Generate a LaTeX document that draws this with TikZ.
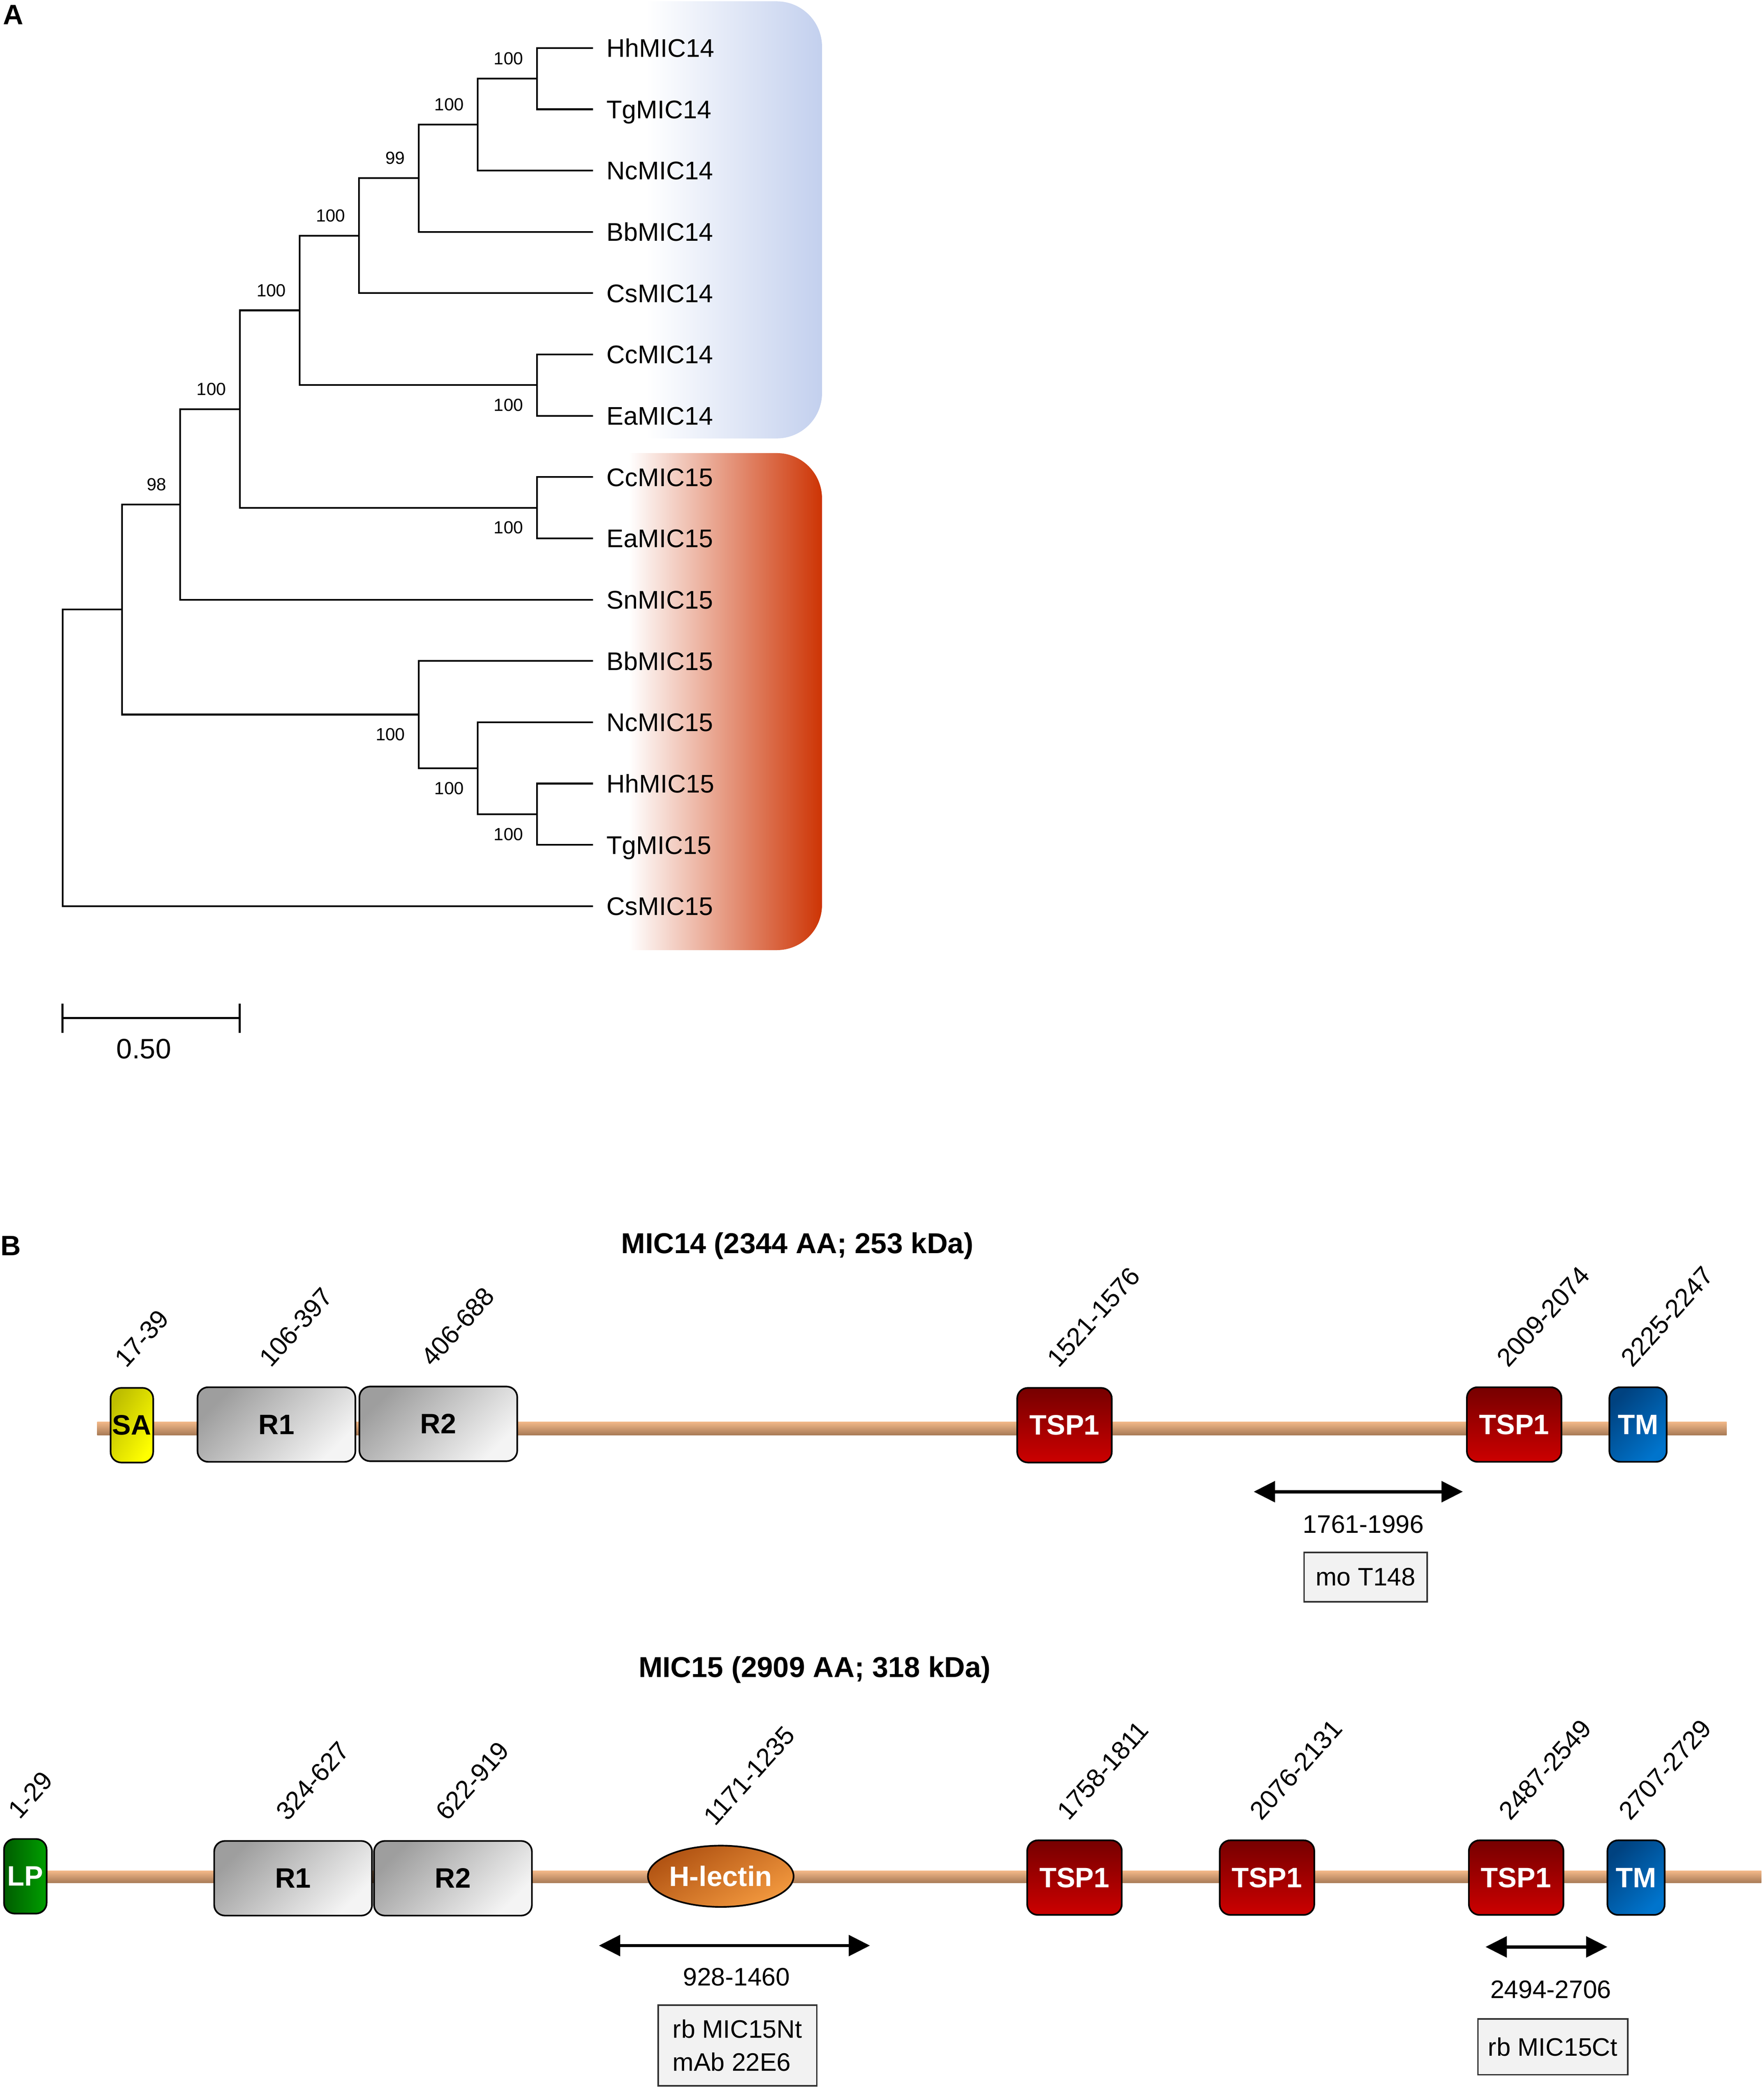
\documentclass[tikz,border=0pt]{standalone}
\usepackage{fontspec}
\setmainfont{Liberation Sans}
\usetikzlibrary{arrows.meta,calc,shapes.geometric}

\definecolor{cladeblue}{RGB}{195,208,238}
\definecolor{cladered}{RGB}{205,52,4}
\definecolor{bbtop}{RGB}{242,184,136}
\definecolor{bbbot}{RGB}{168,122,86}
\definecolor{repdark}{RGB}{158,158,158}
\definecolor{replight}{RGB}{244,244,244}
\definecolor{tspdark}{RGB}{118,0,0}
\definecolor{tsplight}{RGB}{204,0,0}
\definecolor{tmdark}{RGB}{0,66,128}
\definecolor{tmlight}{RGB}{0,116,204}
\definecolor{sadark}{RGB}{190,190,0}
\definecolor{salight}{RGB}{255,255,0}
\definecolor{lpdark}{RGB}{0,92,0}
\definecolor{lplight}{RGB}{0,158,0}
\definecolor{lecdark}{RGB}{176,82,18}
\definecolor{leclight}{RGB}{242,152,62}
\definecolor{boxfill}{RGB}{242,242,242}

\begin{document}
\begin{tikzpicture}[x=0.02cm,y=0.02cm,
  branch/.style={line width=0.75pt},
  tip/.style={anchor=west,inner xsep=0.2cm,inner ysep=0pt,text height=7.8pt,text depth=0pt,font=\fontsize{10.9}{13}\selectfont},
  bsup/.style={anchor=south east,inner sep=0.2cm,font=\fontsize{7.5}{9}\selectfont},
  bsdn/.style={anchor=north east,inner sep=0.2cm,font=\fontsize{7.5}{9}\selectfont},
  panel/.style={font=\bfseries\fontsize{12}{14}\selectfont,inner sep=0pt},
  title/.style={font=\bfseries\fontsize{12.3}{14}\selectfont,inner sep=0pt},
  dom/.style={draw=black,line width=0.7pt,rounded corners=0.16cm,minimum height=1.12cm,inner sep=0pt,font=\bfseries\fontsize{12}{14}\selectfont},
  rep/.style={dom,minimum width=2.37cm,top color=repdark,bottom color=replight,shading angle=45},
  tsp/.style={dom,minimum width=1.42cm,text=white,top color=tspdark,bottom color=tsplight},
  tmd/.style={dom,minimum width=0.86cm,text=white,top color=tmdark,bottom color=tmlight,shading angle=45},
  sad/.style={dom,minimum width=0.64cm,top color=sadark,bottom color=salight,shading angle=60},
  lpd/.style={dom,minimum width=0.64cm,text=white,left color=lpdark,right color=lplight},
  lec/.style={ellipse,draw=black,line width=0.7pt,minimum width=2.08cm,minimum height=0.92cm,inner sep=0pt,text=white,font=\bfseries\fontsize{12}{14}\selectfont,top color=lecdark,bottom color=leclight,shading angle=30},
  resid/.style={anchor=south west,rotate=48,inner sep=0pt,font=\fontsize{11}{13}\selectfont},
  rng/.style={inner sep=0pt,font=\fontsize{10.8}{13}\selectfont},
  span/.style={{Triangle[length=0.32cm,width=0.31cm]}-{Triangle[length=0.32cm,width=0.31cm]},line width=1.4pt},
  abbox/.style={draw=black!80,fill=boxfill,line width=0.6pt,inner sep=0pt,font=\fontsize{10.8}{14.2}\selectfont}]

\useasboundingbox (0,0) rectangle (1324,-1568.4);

\shade[left color=white,right color=cladeblue] (485,-1) -- (583,-1) arc[start angle=90,end angle=0,radius=0.68cm] -- (617,-295) arc[start angle=0,end angle=-90,radius=0.68cm] -- (485,-329) -- cycle;
\shade[left color=white,right color=cladered] (472,-340) -- (583,-340) arc[start angle=90,end angle=0,radius=0.68cm] -- (617,-679) arc[start angle=0,end angle=-90,radius=0.68cm] -- (472,-713) -- cycle;

\node[panel] (pA) at (10,-11) {A};
\foreach \t [count=\i from 0] in {HhMIC14,TgMIC14,NcMIC14,BbMIC14,CsMIC14,CcMIC14,EaMIC14,CcMIC15,EaMIC15,SnMIC15,BbMIC15,NcMIC15,HhMIC15,TgMIC15,CsMIC15}
  \node[tip] (\t) at (445,{-36-46*\i}) {\t};

\coordinate (n1) at (403,-59);
\coordinate (n2) at (358.5,-93.5);
\coordinate (n3) at (314.4,-133.7);
\coordinate (n4) at (269.5,-176.9);
\coordinate (n5) at (403,-289);
\coordinate (n6) at (225,-232.9);
\coordinate (n7) at (403,-381);
\coordinate (n8) at (180,-307);
\coordinate (n9) at (135.2,-378.5);
\coordinate (n10) at (403,-611);
\coordinate (n11) at (358.5,-576.5);
\coordinate (n12) at (314.4,-536.2);
\coordinate (n13) at (91.5,-457.4);
\coordinate (n14) at (47,-568.7);

\draw[branch] (n1) |- (HhMIC14.west) (n1) |- (TgMIC14.west);
\draw[branch] (n2) |- (n1) (n2) |- (NcMIC14.west);
\draw[branch] (n3) |- (n2) (n3) |- (BbMIC14.west);
\draw[branch] (n4) |- (n3) (n4) |- (CsMIC14.west);
\draw[branch] (n5) |- (CcMIC14.west) (n5) |- (EaMIC14.west);
\draw[branch] (n6) |- (n4) (n6) |- (n5);
\draw[branch] (n7) |- (CcMIC15.west) (n7) |- (EaMIC15.west);
\draw[branch] (n8) |- (n6) (n8) |- (n7);
\draw[branch] (n9) |- (n8) (n9) |- (SnMIC15.west);
\draw[branch] (n10) |- (HhMIC15.west) (n10) |- (TgMIC15.west);
\draw[branch] (n11) |- (NcMIC15.west) (n11) |- (n10);
\draw[branch] (n12) |- (BbMIC15.west) (n12) |- (n11);
\draw[branch] (n13) |- (n9) (n13) |- (n12);
\draw[branch] (n14) |- (n13) (n14) |- (CsMIC15.west);

\foreach \c/\v in {n1/100,n2/100,n3/99,n4/100,n6/100,n8/100,n9/98}
  \node[bsup] (b\c) at (\c) {\v};
\foreach \c in {n5,n7,n10,n11,n12}
  \node[bsdn] (b\c) at (\c) {100};

\coordinate (sbl) at (47,-764);
\coordinate (sbr) at (180,-764);
\draw[line width=0.9pt] (sbl) -- (sbr);
\draw[line width=0.9pt] ($(sbl)+(0,11)$) -- ($(sbl)+(0,-11)$) ($(sbr)+(0,11)$) -- ($(sbr)+(0,-11)$);
\node[inner sep=0pt,font=\fontsize{12}{14}\selectfont] (sblbl) at (108,-787) {0.50};

\node[panel] (pB) at (8,-935) {B};
\node[title] (t14) at (598.5,-935) {MIC14 (2344 AA; 253 kDa)};
\node[title] (t15) at (611.5,-1253) {MIC15 (2909 AA; 318 kDa)};

\shade[top color=bbtop,bottom color=bbbot] (73,-1067) rectangle (1296,-1077);
\shade[top color=bbtop,bottom color=bbbot] (19,-1404) rectangle (1322,-1413);

\node[sad] (sa14) at (99,-1069.5) {SA};
\node[rep] (r1a) at (207.5,-1069) {R1};
\node[rep] (r2a) at (329,-1068.5) {R2};
\node[tsp] (tspa) at (799,-1069.5) {TSP1};
\node[tsp] (tspb) at (1136.5,-1069) {TSP1};
\node[tmd] (tma) at (1229.5,-1069) {TM};

\node[lpd] (lp15) at (19,-1408) {LP};
\node[rep] (r1b) at (220,-1409.5) {R1};
\node[rep] (r2b) at (340,-1409.5) {R2};
\node[lec] (hlec) at (541,-1408) {H-lectin};
\node[tsp] (tspc) at (806.5,-1409) {TSP1};
\node[tsp] (tspd) at (951,-1409) {TSP1};
\node[tsp] (tspe) at (1138,-1409) {TSP1};
\node[tmd] (tmb) at (1228,-1409) {TM};

\foreach \d/\r in {sa14/17-39,r1a/106-397,r2a/406-688,tspa/1521-1576,tspb/2009-2074,tma/2225-2247,lp15/1-29,r1b/324-627,r2b/622-919,hlec/1171-1235,tspc/1758-1811,tspd/2076-2131,tspe/2487-2549,tmb/2707-2729}
  \node[resid] (l\d) at ($(\d.north)+(-4,13)$) {\r};

\coordinate (s14l) at (941,-1119.4);
\coordinate (s14r) at (1098,-1119.4);
\draw[span] (s14l) -- (s14r);
\node[rng] (rng14) at (1023.4,-1143.9) {1761-1996};
\node[abbox,minimum width=1.85cm,minimum height=0.74cm] (ab14) at (1025,-1183.5) {mo T148};

\coordinate (s15al) at (449.5,-1460);
\coordinate (s15ar) at (653,-1460);
\draw[span] (s15al) -- (s15ar);
\node[rng] (rng15a) at (552.8,-1483.7) {928-1460};
\node[abbox,minimum width=2.38cm,minimum height=1.21cm,align=left] (ab15a) at (553.5,-1535) {rb MIC15Nt\\mAb 22E6};

\coordinate (s15bl) at (1115,-1461);
\coordinate (s15br) at (1206.5,-1461);
\draw[span] (s15bl) -- (s15br);
\node[rng] (rng15b) at (1164,-1493) {2494-2706};
\node[abbox,minimum width=2.25cm,minimum height=0.84cm] (ab15b) at (1165.5,-1536) {rb MIC15Ct};
\end{tikzpicture}
\end{document}
